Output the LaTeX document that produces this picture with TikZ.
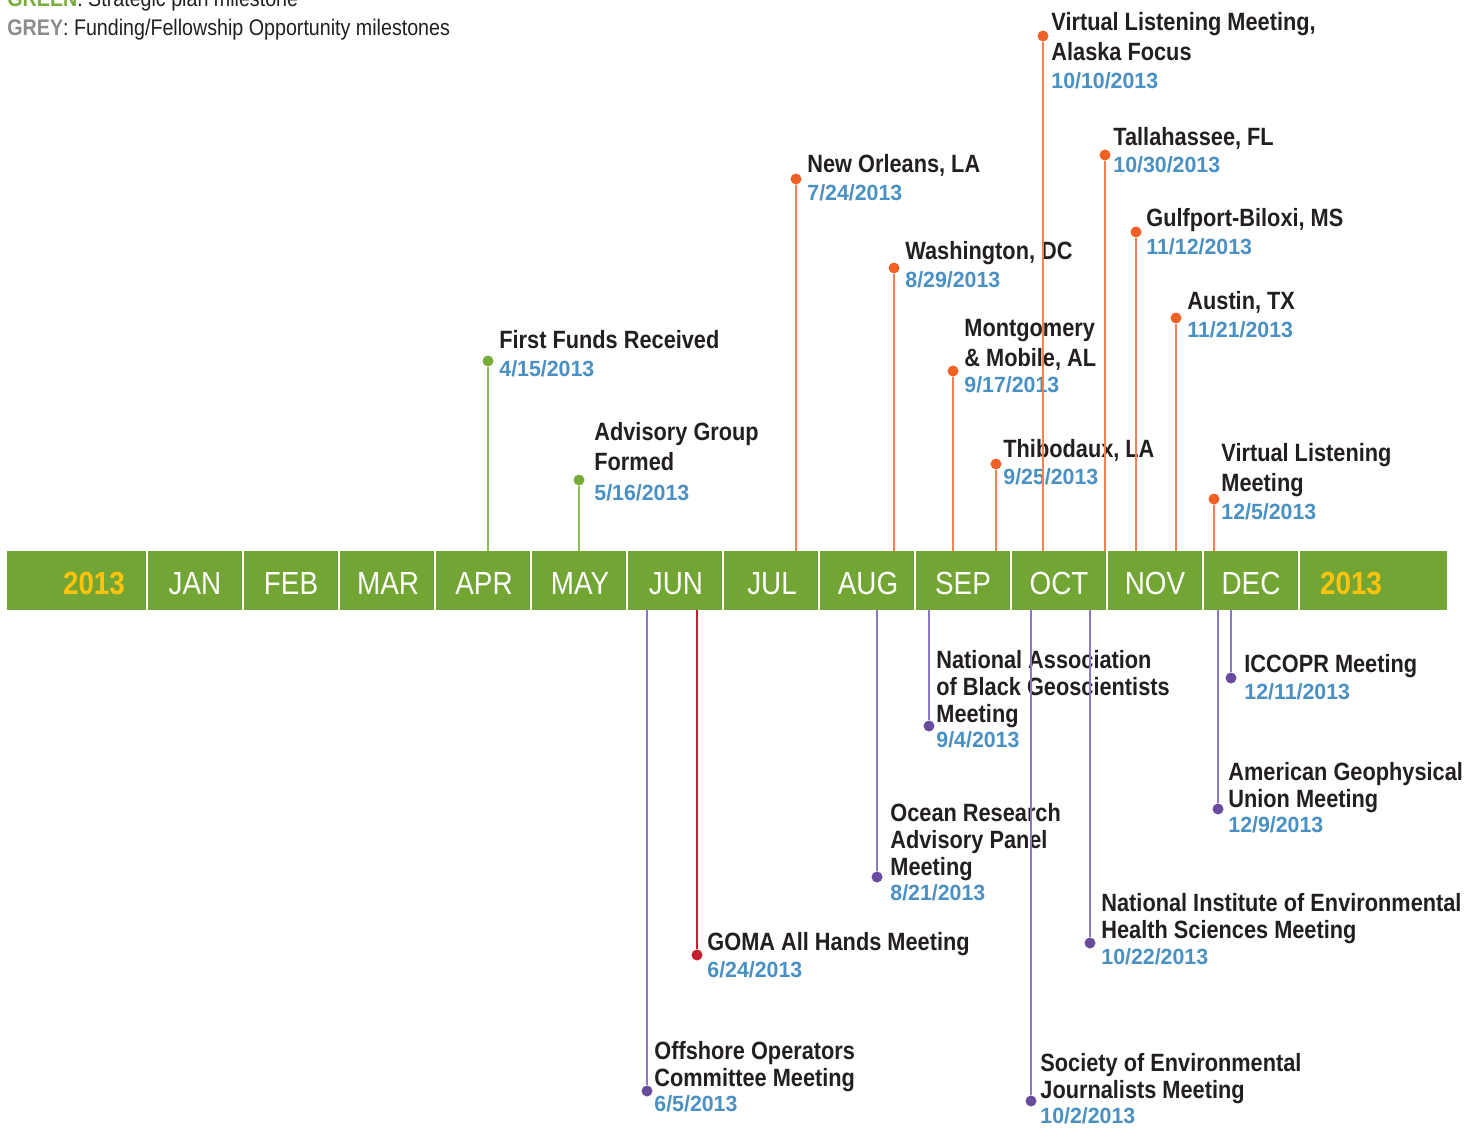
\documentclass[tikz,border=0pt]{standalone}
\usepackage{fontspec}
\setmainfont{Liberation Sans}[FakeStretch=0.87]
\newfontfamily\datefont{Liberation Sans}[FakeStretch=0.97]
\usepackage{tikz}
\usepackage{xcolor}

\definecolor{bargreen}{RGB}{115,165,52}
\definecolor{yearyellow}{RGB}{255,196,14}
\definecolor{dateblue}{RGB}{74,144,194}
\definecolor{evblack}{RGB}{35,31,32}
\definecolor{evorange}{RGB}{241,96,36}
\definecolor{stemorange}{RGB}{244,128,84}
\definecolor{evpurple}{RGB}{106,76,158}
\definecolor{stempurple}{RGB}{140,120,196}
\definecolor{evgreen}{RGB}{120,172,56}
\definecolor{stemgreen}{RGB}{140,190,82}
\definecolor{evred}{RGB}{198,32,48}
\definecolor{legendgrey}{RGB}{140,140,140}

\tikzset{
  uptitle/.style={anchor=north west, inner sep=0pt, align=left, text=evblack,
    font=\bfseries\fontsize{12.5}{15}\selectfont},
  downtitle/.style={uptitle, font=\bfseries\fontsize{12.5}{13.5}\selectfont},
  evdate/.style={anchor=base west, inner sep=0pt, text=dateblue,
    font=\datefont\bfseries\fontsize{11}{13}\selectfont},
  monthlabel/.style={anchor=base, inner sep=0pt, text=white,
    font=\fontsize{16}{19}\selectfont},
  yearlabel/.style={monthlabel, text=yearyellow,
    font=\bfseries\fontsize{16}{19}\selectfont},
  evdot/.style={circle, inner sep=0pt, minimum size=5.5pt, fill=#1},
  evstem/.style={line width=0.75pt, draw=#1},
}

\begin{document}
\begin{tikzpicture}[x=0.5pt,y=-0.5pt]
\useasboundingbox (0,0) rectangle (1476,1128);

% legend
\node[anchor=base west, inner sep=0pt, text=evblack, font=\fontsize{11.3}{13}\selectfont]
  (leggreen) at (7,7) {\textcolor{evgreen}{\bfseries GREEN}: Strategic plan milestone};
\node[anchor=base west, inner sep=0pt, text=evblack, font=\fontsize{11.3}{13}\selectfont]
  (leggrey) at (7,35.5) {\textcolor{legendgrey}{\bfseries GREY}: Funding/Fellowship Opportunity milestones};

% the bar
\fill[bargreen] (7,551) rectangle (1447,610);
\foreach \s in {147,243,339,435,531,627,723,819,915,1011,1107,1203,1299}
  \draw[white, line width=1pt] (\s,551) -- (\s,610);
\coordinate (bartop) at (0,551);
\coordinate (barbot) at (0,610);

\node[yearlabel] (yearl) at (94,594) {2013};
\node[monthlabel] (jan) at (195,594) {JAN};
\node[monthlabel] (feb) at (291,594) {FEB};
\node[monthlabel] (mar) at (388,594) {MAR};
\node[monthlabel] (apr) at (484,594) {APR};
\node[monthlabel] (may) at (580,594) {MAY};
\node[monthlabel] (jun) at (676,594) {JUN};
\node[monthlabel] (jul) at (772,594) {JUL};
\node[monthlabel] (aug) at (868,594) {AUG};
\node[monthlabel] (sep) at (963,594) {SEP};
\node[monthlabel] (oct) at (1059,594) {OCT};
\node[monthlabel] (nov) at (1155,594) {NOV};
\node[monthlabel] (dec) at (1251,594) {DEC};
\node[yearlabel] (yearr) at (1351,594) {2013};

% events above the bar
\node[uptitle] (fft) at (499,330) {First Funds Received};
\node[evdate] (ffdate) at (499,376.5) {4/15/2013};
\node[uptitle] (agt) at (594,422) {Advisory Group\\Formed};
\node[evdate] (agdate) at (594,500.5) {5/16/2013};
\node[uptitle] (not) at (807,154) {New Orleans, LA};
\node[evdate] (nodate) at (807,200.5) {7/24/2013};
\node[uptitle] (wat) at (905,241) {Washington, DC};
\node[evdate] (wadate) at (905,287.5) {8/29/2013};
\node[uptitle] (mmt) at (964,319) {Montgomery\\\& Mobile, AL};
\node[evdate] (mmdate) at (964,392.5) {9/17/2013};
\node[uptitle] (tht) at (1003,439) {Thibodaux, LA};
\node[evdate] (thdate) at (1003,484.5) {9/25/2013};
\node[uptitle] (akt) at (1051,12) {Virtual Listening Meeting,\\Alaska Focus};
\node[evdate] (akdate) at (1051,88.5) {10/10/2013};
\node[uptitle] (tat) at (1113,127) {Tallahassee, FL};
\node[evdate] (tadate) at (1113,172.5) {10/30/2013};
\node[uptitle] (gbt) at (1146,208) {Gulfport-Biloxi, MS};
\node[evdate] (gbdate) at (1146,254.5) {11/12/2013};
\node[uptitle] (aut) at (1187,291) {Austin, TX};
\node[evdate] (audate) at (1187,337.5) {11/21/2013};
\node[uptitle] (vlt) at (1221,443) {Virtual Listening\\Meeting};
\node[evdate] (vldate) at (1221,519.5) {12/5/2013};

% events below the bar
\node[downtitle] (oot) at (654,1041) {Offshore Operators\\Committee Meeting};
\node[evdate] (oodate) at (654,1111.5) {6/5/2013};
\node[downtitle] (got) at (707,932) {GOMA All Hands Meeting};
\node[evdate] (godate) at (707,977.5) {6/24/2013};
\node[downtitle] (ort) at (890,803) {Ocean Research\\Advisory Panel\\Meeting};
\node[evdate] (ordate) at (890,900.5) {8/21/2013};
\node[downtitle] (nabt) at (936,650) {National Association\\of Black Geoscientists\\Meeting};
\node[evdate] (nabdate) at (936,747.5) {9/4/2013};
\node[downtitle] (sejt) at (1040,1053) {Society of Environmental\\Journalists Meeting};
\node[evdate] (sejdate) at (1040,1123.5) {10/2/2013};
\node[downtitle] (niet) at (1101,893) {National Institute of Environmental\\Health Sciences Meeting};
\node[evdate] (niedate) at (1101,964.5) {10/22/2013};
\node[downtitle] (agut) at (1228,762) {American Geophysical\\Union Meeting};
\node[evdate] (agudate) at (1228,832.5) {12/9/2013};
\node[downtitle] (ict) at (1244,654) {ICCOPR Meeting};
\node[evdate] (icdate) at (1244,699.5) {12/11/2013};

% dots
\node[evdot=evgreen] (ff) at (488,361) {};
\node[evdot=evgreen] (ag) at (579,480) {};
\node[evdot=evorange] (no) at (796,179) {};
\node[evdot=evorange] (wa) at (894,268) {};
\node[evdot=evorange] (mm) at (953,371) {};
\node[evdot=evorange] (th) at (996,464) {};
\node[evdot=evorange] (ak) at (1043,36) {};
\node[evdot=evorange] (ta) at (1105,155) {};
\node[evdot=evorange] (gb) at (1136,232) {};
\node[evdot=evorange] (au) at (1176,318) {};
\node[evdot=evorange] (vl) at (1214,499) {};

\node[evdot=evpurple] (oo) at (647,1091) {};
\node[evdot=evred] (go) at (697,955) {};
\node[evdot=evpurple] (or) at (877,877) {};
\node[evdot=evpurple] (nab) at (929,726) {};
\node[evdot=evpurple] (sej) at (1031,1101) {};
\node[evdot=evpurple] (nie) at (1090,943) {};
\node[evdot=evpurple] (agu) at (1218,809) {};
\node[evdot=evpurple] (ic) at (1231,678) {};

% stems
\draw[evstem=stemgreen] (ff) -- (ff |- bartop);
\draw[evstem=stemgreen] (ag) -- (ag |- bartop);
\draw[evstem=stemorange] (no) -- (no |- bartop);
\draw[evstem=stemorange] (wa) -- (wa |- bartop);
\draw[evstem=stemorange] (mm) -- (mm |- bartop);
\draw[evstem=stemorange] (th) -- (th |- bartop);
\draw[evstem=stemorange] (ak) -- (ak |- bartop);
\draw[evstem=stemorange] (ta) -- (ta |- bartop);
\draw[evstem=stemorange] (gb) -- (gb |- bartop);
\draw[evstem=stemorange] (au) -- (au |- bartop);
\draw[evstem=stemorange] (vl) -- (vl |- bartop);

\draw[evstem=stempurple] (oo |- barbot) -- (oo);
\draw[evstem=evred] (go |- barbot) -- (go);
\draw[evstem=stempurple] (or |- barbot) -- (or);
\draw[evstem=stempurple] (nab |- barbot) -- (nab);
\draw[evstem=stempurple] (sej |- barbot) -- (sej);
\draw[evstem=stempurple] (nie |- barbot) -- (nie);
\draw[evstem=stempurple] (agu |- barbot) -- (agu);
\draw[evstem=stempurple] (ic |- barbot) -- (ic);

\end{tikzpicture}
\end{document}
